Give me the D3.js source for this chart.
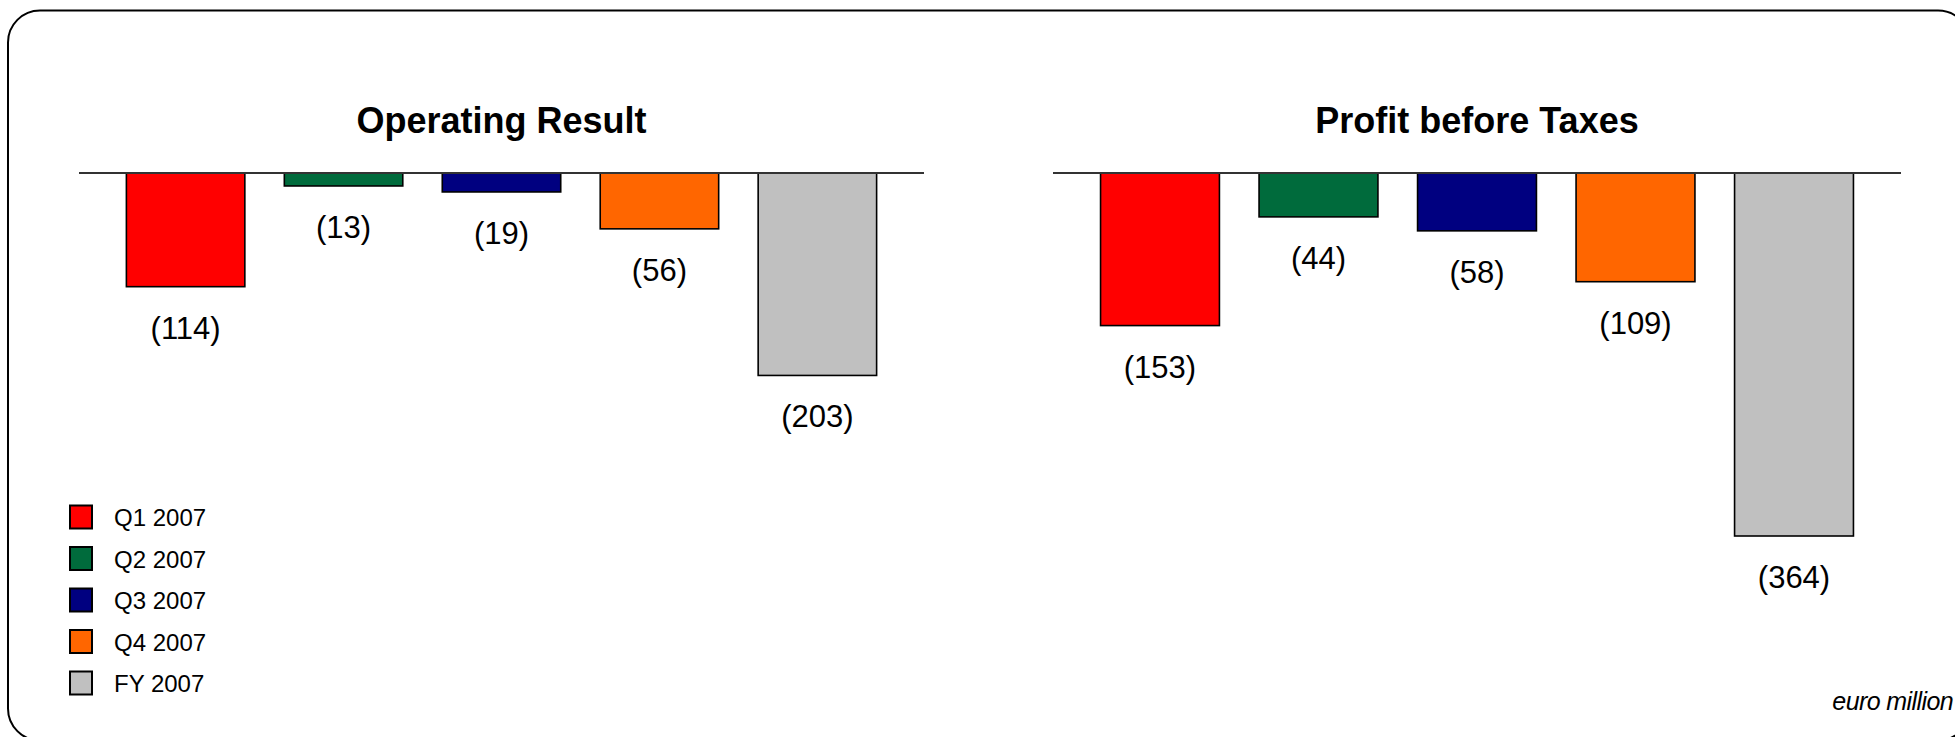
<!DOCTYPE html>
<html>
<head>
<meta charset="utf-8">
<script src="https://cdn.jsdelivr.net/npm/d3@7"></script>
<style>
  html, body { margin: 0; padding: 0; background: #ffffff; overflow: hidden; }
  svg { display: block; font-family: "Liberation Sans", Arial, Helvetica, sans-serif; }
</style>
</head>
<body>
<svg id="chart" width="1955" height="737"></svg>
<script>
// Periods shown in each panel
const periods = ["Q1 2007", "Q2 2007", "Q3 2007", "Q4 2007", "FY 2007"];

// Values in euro million (losses are negative)
const operatingResult = [-114, -13, -19, -56, -203];
const profitBeforeTaxes = [-153, -44, -58, -109, -364];

// Panel titles
const panelTitles = ["Operating Result", "Profit before Taxes"];
const unitNote = "euro million";

// Fill colour for each period
const palette = ["#ff0000", "#006b3c", "#000080", "#ff6600", "#c0c0c0"];

const svg = d3.select("#chart");

// Rounded page frame (runs slightly past the right and bottom edges)
svg.append("rect")
  .attr("x", 8).attr("y", 10.5)
  .attr("width", 1962).attr("height", 730)
  .attr("rx", 32).attr("ry", 32)
  .attr("fill", "none")
  .attr("stroke", "#000")
  .attr("stroke-width", 2);

const color = d3.scaleOrdinal().domain(periods).range(palette);

// Shared vertical scale: zero line at the top, losses extend downward
const y = d3.scaleLinear().domain([0, -364]).range([173, 536]);

const fmt = v => v < 0 ? "(" + d3.format(",")(Math.abs(v)) + ")" : d3.format(",")(v);

const panels = [
  { title: panelTitles[0], values: operatingResult, x0: 79, x1: 924 },
  { title: panelTitles[1], values: profitBeforeTaxes, x0: 1053, x1: 1901 }
];

panels.forEach(p => {
  const g = svg.append("g");
  const x = d3.scaleBand()
    .domain(periods)
    .range([p.x0, p.x1])
    .paddingInner(0.25)
    .paddingOuter(0.3);

  const rows = periods.map((k, i) => ({ key: k, value: p.values[i] }));

  // Title
  g.append("text")
    .attr("x", (p.x0 + p.x1) / 2)
    .attr("y", 133)
    .attr("text-anchor", "middle")
    .attr("font-size", 36)
    .attr("font-weight", "bold")
    .attr("fill", "#000")
    .text(p.title);

  // Bars
  g.selectAll("rect.bar")
    .data(rows)
    .join("rect")
    .attr("class", "bar")
    .attr("x", d => x(d.key))
    .attr("width", x.bandwidth())
    .attr("y", d => Math.min(y(0), y(d.value)))
    .attr("height", d => Math.abs(y(d.value) - y(0)))
    .attr("fill", d => color(d.key))
    .attr("stroke", "#000")
    .attr("stroke-width", 1.6);

  // Zero line drawn through the axis generator (no ticks)
  const axis = d3.axisTop(x).tickSize(0).tickFormat("");
  const ag = g.append("g")
    .attr("transform", `translate(0,${y(0)})`)
    .call(axis);
  ag.select(".domain")
    .attr("d", `M${p.x0},0H${p.x1}`)
    .attr("stroke", "#333")
    .attr("stroke-width", 2);

  // Value labels under each bar
  g.selectAll("text.val")
    .data(rows)
    .join("text")
    .attr("class", "val")
    .attr("x", d => x(d.key) + x.bandwidth() / 2)
    .attr("y", d => y(d.value) + 52)
    .attr("text-anchor", "middle")
    .attr("font-size", 31)
    .attr("fill", "#000")
    .text(d => fmt(d.value));
});

// Legend
const legend = svg.append("g");
const legendY = d3.scalePoint().domain(periods).range([517, 683]);
periods.forEach(k => {
  const cy = legendY(k);
  legend.append("rect")
    .attr("x", 70).attr("y", cy - 11.5)
    .attr("width", 22).attr("height", 23)
    .attr("fill", color(k))
    .attr("stroke", "#000")
    .attr("stroke-width", 2);
  legend.append("text")
    .attr("x", 114).attr("y", cy + 9)
    .attr("font-size", 24)
    .attr("fill", "#000")
    .text(k);
});

// Unit note
svg.append("text")
  .attr("x", 1953).attr("y", 710)
  .attr("text-anchor", "end")
  .attr("font-size", 25)
  .attr("font-style", "italic")
  .attr("letter-spacing", -0.6)
  .attr("fill", "#000")
  .text(unitNote);
</script>
</body>
</html>
